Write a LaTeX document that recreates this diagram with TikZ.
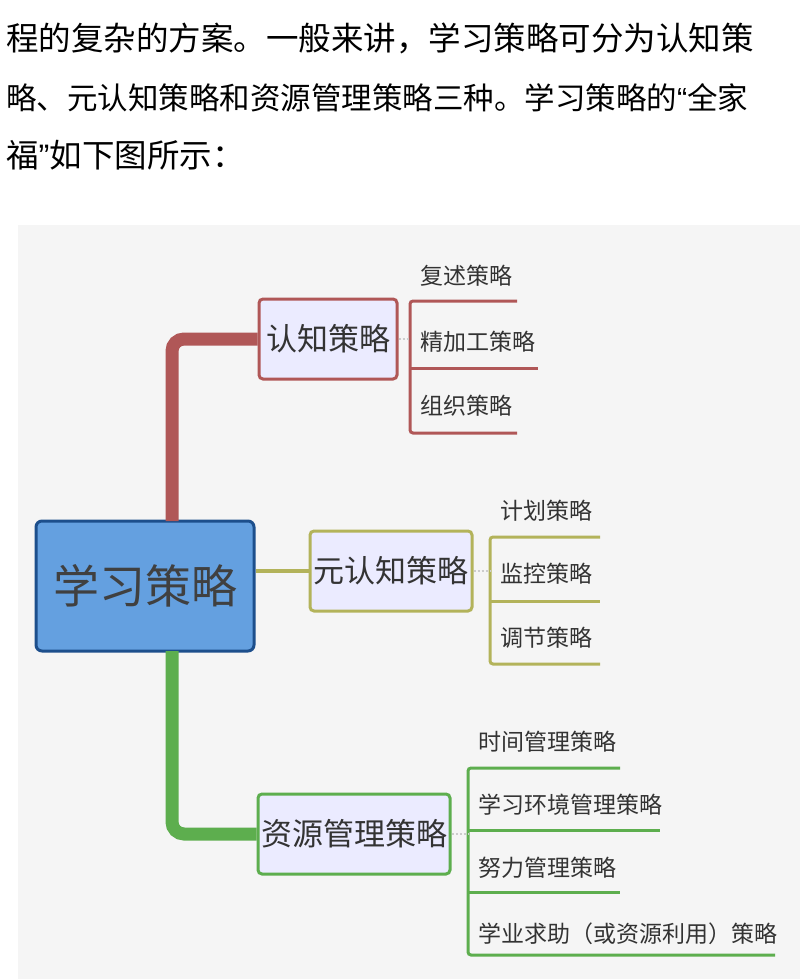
\documentclass[tikz,border=0pt]{standalone}
\usepackage{fontspec}
\setmainfont{Noto Sans CJK SC}
\newfontfamily\qf{Liberation Sans}
\begin{document}
\begin{tikzpicture}[x=1pt,y=-1pt,
  para/.style={anchor=west,inner sep=0pt,font=\fontsize{32.5}{32}\selectfont},
  lab/.style={anchor=west,inner sep=0pt,font=\fontsize{23}{23}\selectfont,text=black!80},
  sub/.style={draw=#1,line width=3pt,fill=blue!8,rounded corners=4pt,minimum height=80pt,inner sep=3pt,font=\fontsize{31}{31}\selectfont,text=black!80}]
\definecolor{rd}{HTML}{B05757}
\definecolor{ol}{HTML}{B3B35A}
\definecolor{gn}{HTML}{5DAE4E}
\definecolor{mb}{HTML}{64A0E0}
\definecolor{db}{HTML}{1D4F8C}
\useasboundingbox (0,0) rectangle (800,979);
\fill[white] (0,0) rectangle (800,979);
\fill[black!4] (18,225) rectangle (800,979);
\node[para] (l1) at (6,38) {程的复杂的方案。一般来讲，学习策略可分为认知策};
\node[para,font=\fontsize{30.5}{30}\selectfont] (l2) at (6,98) {略、元认知策略和资源管理策略三种。学习策略的{\qf“}全家};
\node[para] (l3) at (6,155) {福{\qf”}如下图所示：};
% main
\node[draw=db,line width=3pt,fill=mb,rounded corners=6pt,minimum width=218pt,minimum height=130pt,font=\fontsize{46}{46}\selectfont,text=black!75] (m) at (145,586) {学习策略};
\node[sub=rd,minimum width=138pt] (a) at (328,339) {认知策略};
\node[sub=ol,minimum width=162pt] (b) at (391,571) {元认知策略};
\node[sub=gn,minimum width=190pt] (c) at (354,834) {资源管理策略};
\draw[rd,line width=13pt,rounded corners=12pt] (172,521) |- (a.west);
\draw[ol,line width=4pt] (m.east|-b.west) -- (b.west);
\draw[gn,line width=13pt,rounded corners=12pt] (172,651) |- (c.west);
% red bracket
\draw[rd,line width=3pt,rounded corners=3pt] (517,301) -- (410,301) -- (410,433) -- (517,433);
\draw[rd,line width=3pt] (410,368) -- (538,368);
\node[lab] (a1) at (420,276) {复述策略};
\node[lab] (a2) at (420,342) {精加工策略};
\node[lab] (a3) at (420,406) {组织策略};
\draw[black!20,line width=2pt,dotted] (a.east) -- (410,339);
% olive bracket
\draw[ol,line width=3pt,rounded corners=3pt] (600,537) -- (490,537) -- (490,664) -- (600,664);
\draw[ol,line width=3pt] (490,601) -- (600,601);
\node[lab] (b1) at (500,511) {计划策略};
\node[lab] (b2) at (500,574) {监控策略};
\node[lab] (b3) at (500,638) {调节策略};
\draw[black!20,line width=2pt,dotted] (b.east) -- (490,571);
% green bracket
\draw[gn,line width=3pt,rounded corners=3pt] (620,768) -- (468,768) -- (468,955) -- (775,955);
\draw[gn,line width=3pt] (468,830) -- (660,830);
\draw[gn,line width=3pt] (468,892) -- (620,892);
\node[lab] (c1) at (478,742) {时间管理策略};
\node[lab] (c2) at (478,805) {学习环境管理策略};
\node[lab] (c3) at (478,868) {努力管理策略};
\node[lab] (c4) at (478,934) {学业求助（或资源利用）策略};
\draw[black!20,line width=2pt,dotted] (c.east) -- (468,834);
\end{tikzpicture}
\end{document}
